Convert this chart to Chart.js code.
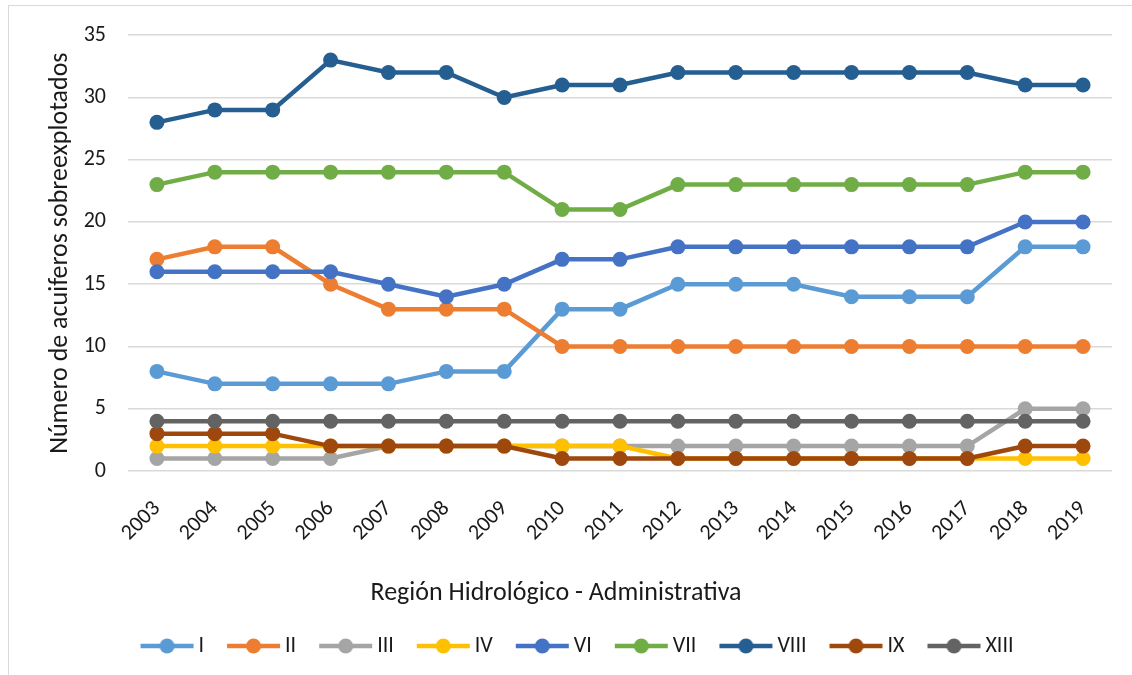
<!DOCTYPE html>
<html>
<head>
<meta charset="utf-8">
<script src="https://cdn.jsdelivr.net/npm/chart.js@4.4.1/dist/chart.umd.min.js"></script>
<style>
    html, body { margin: 0; padding: 0; background: #fff; overflow: hidden; }
    #wrap { position: relative; width: 1132px; height: 675px; }
    #frame { position: absolute; left: 8px; top: 5px; right: -10px; bottom: -10px; border: 1.5px solid #d9d9d9; }
    canvas { position: absolute; left: 0; top: 0; }
</style>
</head>
<body>
<div id="wrap">
    <div id="frame"></div>
    <canvas id="lineChart" width="1132" height="675"></canvas>
</div>
<script>
const years = ['2003', '2004', '2005', '2006', '2007', '2008', '2009', '2010', '2011',
    '2012', '2013', '2014', '2015', '2016', '2017', '2018', '2019'];

const regionI    = [8, 7, 7, 7, 7, 8, 8, 13, 13, 15, 15, 15, 14, 14, 14, 18, 18];
const regionII   = [17, 18, 18, 15, 13, 13, 13, 10, 10, 10, 10, 10, 10, 10, 10, 10, 10];
const regionIII  = [1, 1, 1, 1, 2, 2, 2, 2, 2, 2, 2, 2, 2, 2, 2, 5, 5];
const regionIV   = [2, 2, 2, 2, 2, 2, 2, 2, 2, 1, 1, 1, 1, 1, 1, 1, 1];
const regionVI   = [16, 16, 16, 16, 15, 14, 15, 17, 17, 18, 18, 18, 18, 18, 18, 20, 20];
const regionVII  = [23, 24, 24, 24, 24, 24, 24, 21, 21, 23, 23, 23, 23, 23, 23, 24, 24];
const regionVIII = [28, 29, 29, 33, 32, 32, 30, 31, 31, 32, 32, 32, 32, 32, 32, 31, 31];
const regionIX   = [3, 3, 3, 2, 2, 2, 2, 1, 1, 1, 1, 1, 1, 1, 1, 2, 2];
const regionXIII = [4, 4, 4, 4, 4, 4, 4, 4, 4, 4, 4, 4, 4, 4, 4, 4, 4];

const seriesNames = ['I', 'II', 'III', 'IV', 'VI', 'VII', 'VIII', 'IX', 'XIII'];
const seriesData = [regionI, regionII, regionIII, regionIV, regionVI, regionVII, regionVIII, regionIX, regionXIII];
const seriesColors = ['#5B9BD5', '#ED7D31', '#A5A5A5', '#FFC000', '#4472C4', '#70AD47', '#255E91', '#9E480E', '#636363'];

const fontFamily = 'Carlito, Calibri, Lato, sans-serif';
const textColor = '#1a1a1a';

// little line + dot icon like the excel legend
function legendIcon(color) {
    const c = document.createElement('canvas');
    c.width = 55;
    c.height = 18;
    const g = c.getContext('2d');
    g.strokeStyle = color;
    g.lineWidth = 4.5;
    g.beginPath();
    g.moveTo(1, 9);
    g.lineTo(54, 9);
    g.stroke();
    g.fillStyle = color;
    g.beginPath();
    g.arc(27.5, 9, 7.5, 0, Math.PI * 2);
    g.fill();
    return c;
}
const icons = seriesColors.map(legendIcon);

const datasets = seriesNames.map((name, i) => ({
    label: name,
    data: seriesData[i],
    borderColor: seriesColors[i],
    backgroundColor: seriesColors[i],
    borderWidth: 4.5,
    pointRadius: 7.5,
    pointHoverRadius: 7.5,
    pointBorderWidth: 0,
    pointStyle: 'circle',
    fill: false,
    tension: 0,
    order: seriesNames.length - i   // later series on top, like excel
}));

// legend sits a bit right of centre in the original
const shiftLegend = {
    id: 'shiftLegend',
    afterLayout(chart) {
        chart.legend.left += 24;
        chart.legend.right += 24;
    }
};

const cfg = {
    type: 'line',
    data: { labels: years, datasets: datasets },
    plugins: [shiftLegend],
    options: {
        responsive: false,
        animation: false,
        layout: { padding: { top: 35, left: 0, right: 20, bottom: 8 } },
        scales: {
            x: {
                offset: true,
                grid: { display: false, drawTicks: false },
                border: { display: false },
                ticks: {
                    autoSkip: false,
                    minRotation: 45,
                    maxRotation: 45,
                    padding: 25,
                    color: textColor,
                    font: { family: fontFamily, size: 22 }
                },
                afterFit: (scale) => { scale.height = 85; }
            },
            y: {
                min: 0,
                max: 35,
                ticks: {
                    stepSize: 5,
                    padding: 22,
                    color: textColor,
                    font: { family: fontFamily, size: 22 }
                },
                grid: { color: '#d9d9d9', lineWidth: 1.5, drawTicks: false },
                border: { display: false },
                title: {
                    display: true,
                    text: 'Número de acuiferos sobreexplotados',
                    color: textColor,
                    font: { family: fontFamily, size: 26, lineHeight: 1 },
                    padding: { top: 47, bottom: 0 }
                },
                afterFit: (scale) => { scale.width = 128; }
            }
        },
        plugins: {
            title: {
                display: true,
                text: 'Región Hidrológico - Administrativa',
                position: 'bottom',
                weight: 500,
                color: textColor,
                font: { family: fontFamily, size: 26, weight: 'normal', lineHeight: 1 },
                padding: { top: 24, bottom: 0 }
            },
            legend: {
                position: 'bottom',
                weight: 1000,
                labels: {
                    usePointStyle: true,
                    pointStyleWidth: 41,
                    padding: 29,
                    color: textColor,
                    font: { family: fontFamily, size: 22 },
                    sort: (a, b) => a.datasetIndex - b.datasetIndex,
                    generateLabels: (chart) => {
                        const items = Chart.defaults.plugins.legend.labels.generateLabels(chart);
                        items.forEach(it => { it.pointStyle = icons[it.datasetIndex]; });
                        return items;
                    }
                }
            },
            tooltip: { enabled: false }
        }
    }
};

new Chart(document.getElementById('lineChart'), cfg);
</script>
</body>
</html>
